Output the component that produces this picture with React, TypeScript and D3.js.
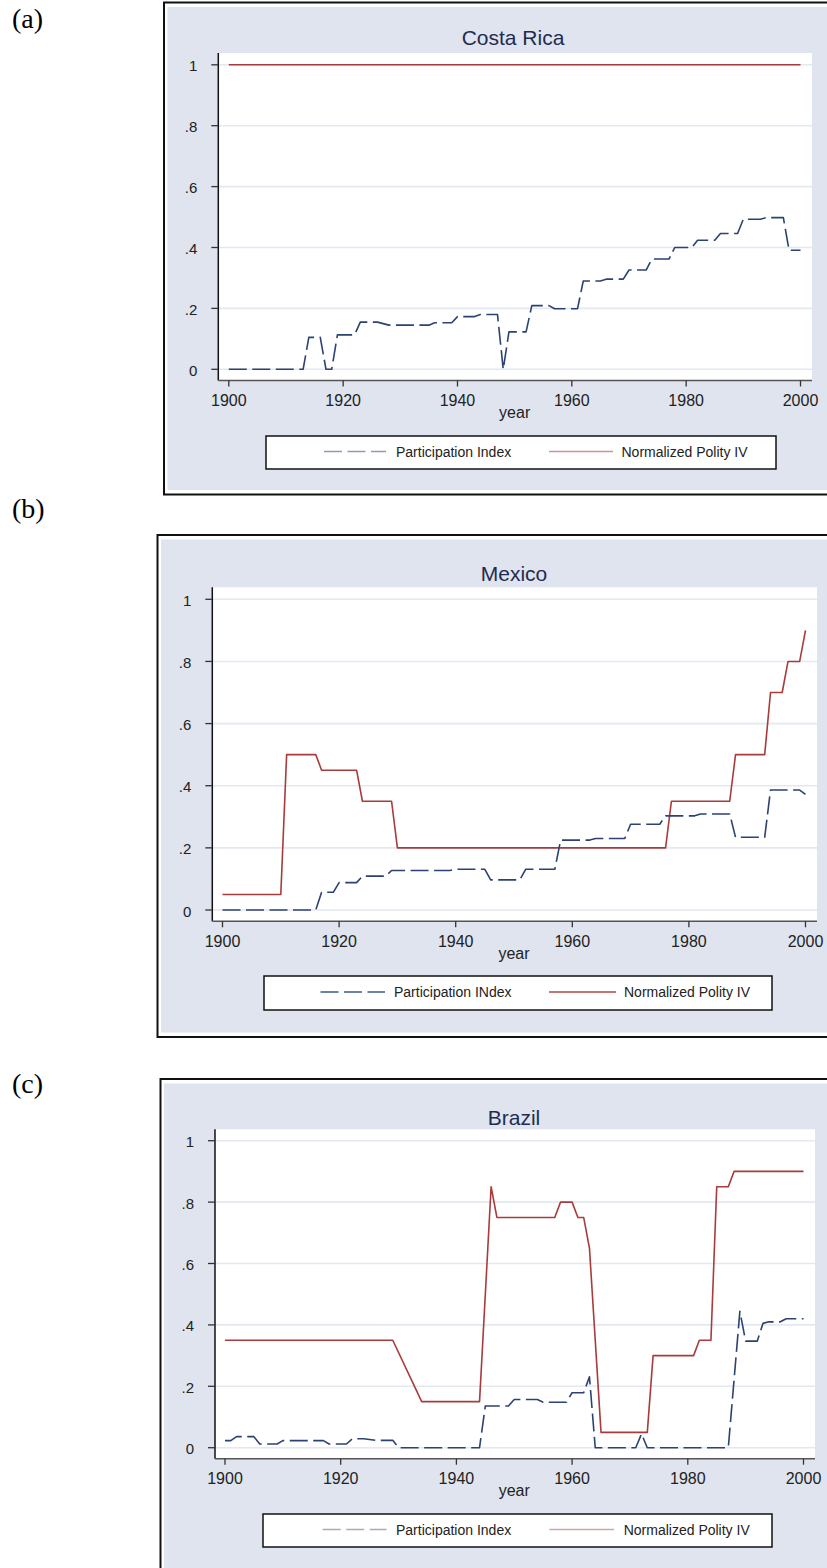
import React from 'react';
import * as d3 from 'd3';

type Pt = [number, number];

// ---------- data ----------
const xTickValues = [1900, 1920, 1940, 1960, 1980, 2000];
const yTickValues = [0, 0.2, 0.4, 0.6, 0.8, 1];
const yTickLabels = ['0', '.2', '.4', '.6', '.8', '1'];
const xAxisTitle = 'year';

const panelLetters = ['(a)', '(b)', '(c)'];
const countryNames = ['Costa Rica', 'Mexico', 'Brazil'];
const participationLabels = ['Participation Index', 'Participation INdex', 'Participation Index'];
const polityLabel = 'Normalized Polity IV';

const costaRicaParticipation: Pt[] = [
  [1900, 0], [1913, 0], [1914, 0.105], [1916, 0.105], [1917, 0], [1918, 0], [1919, 0.113],
  [1922, 0.113], [1923, 0.155], [1926, 0.155], [1928, 0.145], [1935, 0.145], [1936, 0.153],
  [1939, 0.153], [1940, 0.173], [1943, 0.173], [1944, 0.18], [1947, 0.18], [1948, 0],
  [1949, 0.123], [1952, 0.123], [1953, 0.209], [1956, 0.209], [1957, 0.199], [1961, 0.199],
  [1962, 0.29], [1965, 0.29], [1966, 0.296], [1969, 0.296], [1970, 0.326], [1973, 0.326],
  [1974, 0.362], [1977, 0.362], [1978, 0.4], [1981, 0.4], [1982, 0.424], [1985, 0.424],
  [1986, 0.446], [1989, 0.446], [1990, 0.493], [1993, 0.493], [1994, 0.498], [1997, 0.498],
  [1998, 0.391], [2000, 0.391],
];
const costaRicaPolity: Pt[] = [[1900, 1], [2000, 1]];

const mexicoParticipation: Pt[] = [
  [1900, 0], [1916, 0], [1917, 0.057], [1919, 0.057], [1920, 0.088], [1923, 0.088],
  [1924, 0.109], [1928, 0.109], [1929, 0.127], [1939, 0.127], [1940, 0.131], [1945, 0.131],
  [1946, 0.097], [1951, 0.097], [1952, 0.131], [1957, 0.131], [1958, 0.225], [1963, 0.225],
  [1964, 0.23], [1969, 0.23], [1970, 0.276], [1975, 0.276], [1976, 0.303], [1981, 0.303],
  [1982, 0.309], [1987, 0.309], [1988, 0.234], [1993, 0.234], [1994, 0.386], [1999, 0.386],
  [2000, 0.372],
];
const mexicoPolity: Pt[] = [
  [1900, 0.05], [1910, 0.05], [1911, 0.5], [1916, 0.5], [1917, 0.45], [1923, 0.45],
  [1924, 0.35], [1929, 0.35], [1930, 0.2], [1976, 0.2], [1977, 0.35], [1987, 0.35],
  [1988, 0.5], [1993, 0.5], [1994, 0.7], [1996, 0.7], [1997, 0.8], [1999, 0.8], [2000, 0.9],
];

const brazilParticipation: Pt[] = [
  [1900, 0.023], [1901, 0.023], [1902, 0.036], [1905, 0.036], [1906, 0.012], [1909, 0.012],
  [1910, 0.023], [1917, 0.023], [1918, 0.012], [1921, 0.012], [1922, 0.029], [1924, 0.029],
  [1926, 0.024], [1929, 0.024], [1930, 0], [1944, 0], [1945, 0.136], [1949, 0.136],
  [1950, 0.157], [1954, 0.157], [1955, 0.148], [1959, 0.148], [1960, 0.179], [1962, 0.179],
  [1963, 0.231], [1964, 0], [1971, 0], [1972, 0.045], [1973, 0], [1987, 0], [1989, 0.444],
  [1990, 0.347], [1992, 0.347], [1993, 0.405], [1994, 0.41], [1996, 0.41], [1997, 0.42],
  [2000, 0.42],
];
const brazilPolity: Pt[] = [
  [1900, 0.35], [1929, 0.35], [1934, 0.15], [1944, 0.15], [1946, 0.85], [1947, 0.75],
  [1957, 0.75], [1958, 0.8], [1960, 0.8], [1961, 0.75], [1962, 0.75], [1963, 0.65],
  [1965, 0.05], [1973, 0.05], [1974, 0.3], [1981, 0.3], [1982, 0.35], [1984, 0.35],
  [1985, 0.85], [1987, 0.85], [1988, 0.9], [2000, 0.9],
];

const participationSeries = [costaRicaParticipation, mexicoParticipation, brazilParticipation];
const politySeries = [costaRicaPolity, mexicoPolity, brazilPolity];

// ---------- layout / style ----------
const W = 827;
const H = 1568;
const BLUE_BG = '#dfe4ee';
const NAVY = '#2b4272';
const MAROON = '#a83c3c';
const GRID = '#e3e8f1';
const SANS = '"Liberation Sans", Arial, Helvetica, sans-serif';
const SERIF = '"Liberation Serif", "Times New Roman", serif';

interface Layout {
  letterY: number;
  frameX: number; frameY: number; frameBottom: number;
  axisX: number; plotTop: number; plotRight: number;
  y1: number; y0: number; xAxisY: number;
  x1900: number; x2000: number;
  titleX: number; titleY: number;
  legX0: number; legX1: number; legY0: number; legY1: number;
  s1a: number; s1b: number; t1: number; s2a: number; s2b: number; t2: number;
  legDash: string; legRed: string;
}

const layouts: Layout[] = [
  {
    letterY: 28, frameX: 164, frameY: 2.5, frameBottom: 494.5,
    axisX: 218.3, plotTop: 53, plotRight: 812, y1: 64.8, y0: 369.3, xAxisY: 380.5,
    x1900: 228.8, x2000: 800.5, titleX: 513, titleY: 37,
    legX0: 266, legX1: 776, legY0: 436, legY1: 469,
    s1a: 324, s1b: 386, t1: 396, s2a: 549, s2b: 613, t2: 621.5,
    legDash: '#8e9ab6', legRed: '#c99494',
  },
  {
    letterY: 518, frameX: 157.5, frameY: 535, frameBottom: 1037,
    axisX: 212.3, plotTop: 587.3, plotRight: 817, y1: 599.3, y0: 910, xAxisY: 921.3,
    x1900: 222.5, x2000: 805.5, titleX: 514, titleY: 573,
    legX0: 264, legX1: 772, legY0: 976, legY1: 1010,
    s1a: 320.5, s1b: 385, t1: 394, s2a: 549, s2b: 616, t2: 624,
    legDash: '#3d5a92', legRed: '#b24545',
  },
  {
    letterY: 1093, frameX: 160.5, frameY: 1079, frameBottom: 1600,
    axisX: 215, plotTop: 1129.3, plotRight: 815, y1: 1140.7, y0: 1447.7, xAxisY: 1458.7,
    x1900: 225, x2000: 803.5, titleX: 514, titleY: 1117,
    legX0: 263, legX1: 772, legY0: 1514, legY1: 1547,
    s1a: 322.7, s1b: 386.6, t1: 396, s2a: 549.4, s2b: 614, t2: 623.7,
    legDash: '#a3adc3', legRed: '#d2a6a6',
  },
];

function Panel({ i }: { i: number }) {
  const L = layouts[i];
  const x = d3.scaleLinear().domain([1900, 2000]).range([L.x1900, L.x2000]);
  const y = d3.scaleLinear().domain([0, 1]).range([L.y0, L.y1]);
  const line = d3.line<Pt>().x((d) => x(d[0])).y((d) => y(d[1]));
  const legMid = (L.legY0 + L.legY1) / 2 - 1;

  return (
    <g>
      <text x={12} y={L.letterY} fontFamily={SERIF} fontSize={28} fill="#000">
        {panelLetters[i]}
      </text>
      {/* frame */}
      <rect x={L.frameX} y={L.frameY} width={W + 50 - L.frameX} height={L.frameBottom - L.frameY}
        fill="#fff" stroke="#111" strokeWidth={2} />
      <rect x={L.frameX + 3.5} y={L.frameY + 4.5} width={W + 50 - L.frameX}
        height={L.frameBottom - L.frameY - 9} fill={BLUE_BG} />
      {/* plot region */}
      <rect x={L.axisX} y={L.plotTop} width={L.plotRight - L.axisX} height={L.xAxisY - L.plotTop} fill="#fff" />
      {yTickValues.map((v) => (
        <line key={'g' + v} x1={L.axisX} x2={L.plotRight} y1={y(v)} y2={y(v)} stroke={GRID} strokeWidth={1.6} />
      ))}
      {/* title */}
      <text x={L.titleX} y={L.titleY} textAnchor="middle" dominantBaseline="central"
        fontFamily={SANS} fontSize={21} fill="#1f2c50">
        {countryNames[i]}
      </text>
      {/* data */}
      <path d={line(politySeries[i]) || ''} fill="none" stroke={MAROON} strokeWidth={1.6}
        strokeLinejoin="round" />
      <path d={line(participationSeries[i]) || ''} fill="none" stroke={NAVY} strokeWidth={1.6}
        strokeDasharray="18 5.5" strokeLinejoin="round" />
      {/* axes */}
      <line x1={L.axisX} x2={L.axisX} y1={L.plotTop} y2={L.xAxisY} stroke="#111" strokeWidth={1.5} />
      <line x1={L.axisX} x2={L.plotRight} y1={L.xAxisY} y2={L.xAxisY} stroke="#555" strokeWidth={1.5} />
      {yTickValues.map((v, k) => (
        <g key={'y' + v}>
          <line x1={L.axisX - 7} x2={L.axisX} y1={y(v)} y2={y(v)} stroke="#333" strokeWidth={1.3} />
          <text x={L.axisX - 21} y={y(v) + 1} textAnchor="end" dominantBaseline="central"
            fontFamily={SANS} fontSize={15} fill="#222">
            {yTickLabels[k]}
          </text>
        </g>
      ))}
      {xTickValues.map((v) => (
        <g key={'x' + v}>
          <line x1={x(v)} x2={x(v)} y1={L.xAxisY} y2={L.xAxisY + 6} stroke="#333" strokeWidth={1.3} />
          <text x={x(v)} y={L.xAxisY + 25.5} textAnchor="middle" fontFamily={SANS} fontSize={16} fill="#222">
            {v}
          </text>
        </g>
      ))}
      <text x={(L.x1900 + L.x2000) / 2} y={L.xAxisY + 37.5} textAnchor="middle" fontFamily={SANS}
        fontSize={16} fill="#222">
        {xAxisTitle}
      </text>
      {/* legend */}
      <rect x={L.legX0} y={L.legY0} width={L.legX1 - L.legX0} height={L.legY1 - L.legY0}
        fill="#fff" stroke="#111" strokeWidth={1.5} />
      <line x1={L.s1a} x2={L.s1b} y1={legMid} y2={legMid} stroke={L.legDash} strokeWidth={1.6}
        strokeDasharray="18 5.5" />
      <text x={L.t1} y={legMid} dominantBaseline="central" fontFamily={SANS} fontSize={14} fill="#222">
        {participationLabels[i]}
      </text>
      <line x1={L.s2a} x2={L.s2b} y1={legMid} y2={legMid} stroke={L.legRed} strokeWidth={1.6} />
      <text x={L.t2} y={legMid} dominantBaseline="central" fontFamily={SANS} fontSize={14} fill="#222">
        {polityLabel}
      </text>
    </g>
  );
}

export default function App() {
  return (
    <svg width={W} height={H} viewBox={`0 0 ${W} ${H}`}
      style={{ position: 'absolute', left: 0, top: 0, background: '#fff' }}>
      <rect x={0} y={0} width={W} height={H} fill="#fff" />
      {layouts.map((_, i) => (
        <Panel key={i} i={i} />
      ))}
    </svg>
  );
}
